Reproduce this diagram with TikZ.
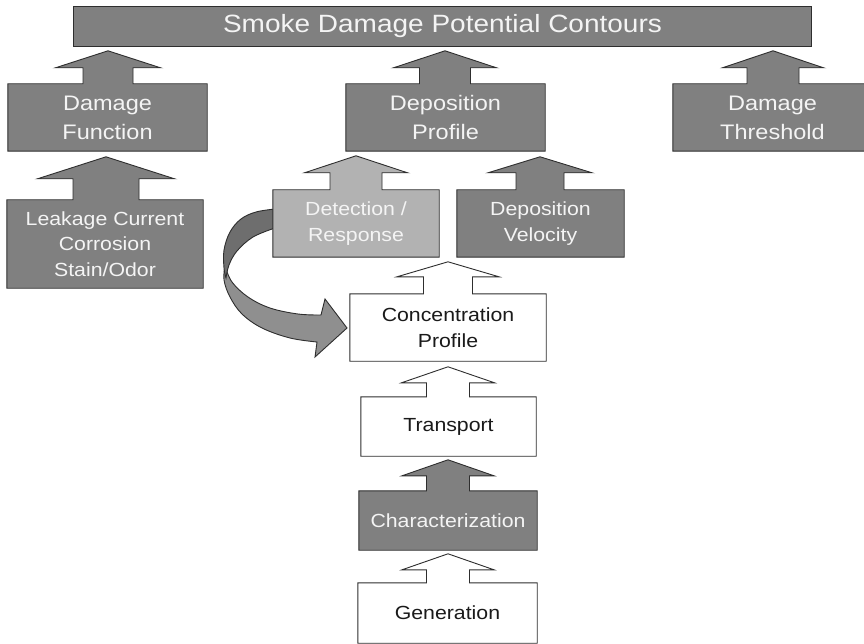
\documentclass[tikz,border=0pt]{standalone}
\usepackage{fontspec}
\setmainfont{Liberation Sans}[FakeStretch=1.12]
\usetikzlibrary{calc,backgrounds}

\definecolor{boxdark}{HTML}{808080}
\definecolor{boxlight}{HTML}{B2B2B2}
\definecolor{curlfront}{HTML}{8F8F8F}
\definecolor{curlback}{HTML}{6E6E6E}
\definecolor{edgeline}{HTML}{2E2E2E}
\definecolor{lighttext}{HTML}{F4F4F4}
\definecolor{darktext}{HTML}{1A1A1A}

\pgfdeclarelayer{paper}
\pgfsetlayers{paper,background,main}

% Box with an upward block arrow on top.
% #1 node, #2 fill, #3 shaft half width, #4 head half width,
% #5 shaft length, #6 tip height above box, #7 arrow x offset
\newcommand\arrowcap[7]{%
  \begin{pgfonlayer}{background}
    \filldraw[shapeline, fill=#2]
      (#1.south west) -- (#1.north west)
      -- ($(#1.north)+(#7-#3,0)$) -- ($(#1.north)+(#7-#3,-#5)$)
      -- ($(#1.north)+(#7-#4,-#5)$) -- ($(#1.north)+(#7,-#6)$)
      -- ($(#1.north)+(#7+#4,-#5)$) -- ($(#1.north)+(#7+#3,-#5)$)
      -- ($(#1.north)+(#7+#3,0)$) -- (#1.north east)
      -- (#1.south east) -- cycle;
  \end{pgfonlayer}}

\begin{document}
\begin{tikzpicture}[x=1pt,y=-1pt,
  shapeline/.style={draw=edgeline, line width=0.9pt, line join=miter},
  cell/.style={rectangle, inner sep=0pt, align=center},
  bigtext/.style={cell, text=lighttext, font=\fontsize{21}{29}\selectfont},
  midtext/.style={cell, text=lighttext, font=\fontsize{19}{25.5}\selectfont},
  plaintext/.style={cell, text=darktext, font=\fontsize{19}{25.5}\selectfont},
  titletext/.style={cell, text=lighttext, font=\fontsize{25}{30}\selectfont}]

\useasboundingbox (0,0) rectangle (864,644);
\clip (0,0) rectangle (864,644);
\begin{pgfonlayer}{paper}
  \fill[white] (0,0) rectangle (864,644);
\end{pgfonlayer}

% curled arrow from the detection box round to the concentration box
\begin{pgfonlayer}{background}
\filldraw[shapeline, fill=curlfront]
  (225,266) -- plot[smooth, tension=0.6] coordinates
     {(225,266) (232,282) (248,297) (270,308) (298,314) (321,315)}
  -- (325,299) -- (347,328) -- (315,357) -- (317,342)
  -- plot[smooth, tension=0.6] coordinates
     {(317,342) (290,338) (262,328) (242,314) (230,297) (224,280) (225,266)}
  -- cycle;
\filldraw[shapeline, fill=curlback]
  (275,209) -- plot[smooth, tension=0.6] coordinates
     {(275,209) (256,212) (241,219) (230,232) (224,250) (224,268) (226,278)}
  -- plot[smooth, tension=0.6] coordinates
     {(226,278) (229,265) (237,251) (253,237) (275,228)}
  -- cycle;
\end{pgfonlayer}

% top level
\node[titletext, minimum width=737, minimum height=39] (top) at (442.5,26.5)
  {Smoke Damage Potential Contours};
\begin{pgfonlayer}{background}
  \filldraw[shapeline, fill=boxdark] (top.south west) rectangle (top.north east);
\end{pgfonlayer}

% second level
\node[bigtext, minimum width=199, minimum height=67] (dfun) at (107.5,117.5) {Damage\\Function};
\node[bigtext, minimum width=199, minimum height=67] (dprof) at (445.5,117.5) {Deposition\\Profile};
\node[bigtext, minimum width=199, minimum height=67] (dthr) at (772.5,117.5) {Damage\\Threshold};
\arrowcap{dfun}{boxdark}{25}{52.5}{16}{33}{0.5}
\arrowcap{dprof}{boxdark}{25.5}{51.5}{16}{33}{-0.5}
\arrowcap{dthr}{boxdark}{26}{50.5}{16}{33}{0.5}

% third level
\node[midtext, minimum width=196, minimum height=88] (leak) at (105,244)
  {Leakage Current\\Corrosion\\Stain/Odor};
\node[midtext, minimum width=166, minimum height=67] (detect) at (356,223.5)
  {Detection /\\Response};
\node[midtext, minimum width=167, minimum height=67] (dvel) at (540.5,223.5)
  {Deposition\\Velocity};
\arrowcap{leak}{boxdark}{33}{68.5}{21}{43}{1}
\arrowcap{detect}{boxlight}{26}{51.5}{17}{34}{0}
\arrowcap{dvel}{boxdark}{24}{52}{17}{33}{-0.5}

% source chain
\node[plaintext, minimum width=196, minimum height=67] (conc) at (448,327.5)
  {Concentration\\Profile};
\node[plaintext, minimum width=175, minimum height=59] (trans) at (448.5,426.5)
  {Transport};
\node[midtext, minimum width=178, minimum height=59] (charz) at (448,520.5)
  {Characterization};
\node[plaintext, minimum width=179, minimum height=60] (gen) at (447.5,613)
  {Generation};
\arrowcap{conc}{white}{24.5}{51}{17}{32}{0}
\arrowcap{trans}{white}{21.5}{46.5}{14}{30}{-0.5}
\arrowcap{charz}{boxdark}{21.5}{46}{15}{31}{0}
\arrowcap{gen}{white}{21.5}{46}{13}{29}{0.5}

\end{tikzpicture}
\end{document}
